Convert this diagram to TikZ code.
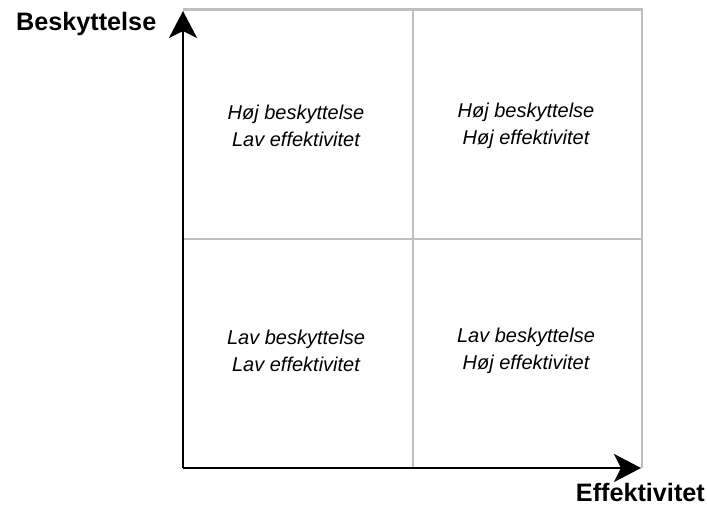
\documentclass[tikz,border=0pt]{standalone}
\usepackage{fontspec}
\setmainfont{Liberation Sans}
\usetikzlibrary{arrows.meta}
\begin{document}
\begin{tikzpicture}[x=1pt,y=-1pt,
  gridline/.style={draw=black!25, line width=2.5pt},
  axis/.style={draw=black, line width=2.6pt, -{Stealth[length=27pt,width=28pt,inset=7pt]}},
  axislabel/.style={font=\fontsize{25.2}{28}\selectfont\bfseries, inner sep=0pt},
  quad/.style={font=\fontsize{20}{26.5}\selectfont\itshape, align=center, inner sep=0pt}]
\useasboundingbox (0,0) rectangle (707,508);
\coordinate (O) at (183,468);
\coordinate (T) at (183,11);
\coordinate (R) at (641,468);
\coordinate (TR) at (642,9.5);
\coordinate (TL) at (183,9.5);
\coordinate (MT) at (413,9.5);
\coordinate (MB) at (413,468);
\coordinate (ML) at (183,239);
\coordinate (MR) at (642,239);
% grid
\draw[gridline] (TL) -- (TR) -- (642,468);
\draw[gridline] (MT) -- (MB);
\draw[gridline] (ML) -- (MR);
% axes
\draw[axis] (O) -- (T);
\draw[axis] (O) -- (R);
% labels
\node[axislabel, anchor=base west] (ylab) at (16,31) {Beskyttelse};
\node[axislabel, anchor=base east] (xlab) at (705,501.5) {Effektivitet};
% quadrants
\node[quad] (q1) at (296,126) {Høj beskyttelse\\Lav effektivitet};
\node[quad] (q2) at (526,126) {Høj beskyttelse\\Høj effektivitet};
\node[quad] (q3) at (296,351) {Lav beskyttelse\\Lav effektivitet};
\node[quad] (q4) at (526,351) {Lav beskyttelse\\Høj effektivitet};
\end{tikzpicture}
\end{document}
